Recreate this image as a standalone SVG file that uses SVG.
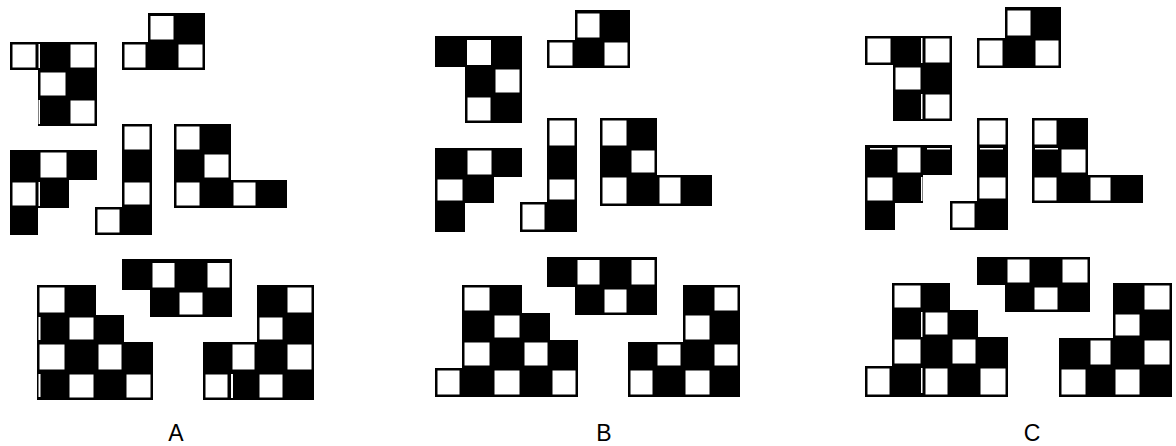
<svg xmlns="http://www.w3.org/2000/svg" width="1176" height="446" viewBox="0 0 1176 446">
<style>
.p{fill:#000}
.w{fill:#fff}
.s{fill:#fff}
.lbl{font-family:"Liberation Sans",Arial,sans-serif;font-size:23px;fill:#000;text-anchor:middle}
</style>
<rect width="1176" height="446" fill="#fff"/>
<!-- Panel A -->
<g id="A1"><path class="p" d="M10,42H97V126H38V70H10Z"/>
<rect class="w" x="12.5" y="44.5" width="23" height="23"/><rect class="w" x="70.5" y="44.5" width="24" height="23"/>
<rect class="w" x="40.5" y="72.5" width="25" height="23"/><rect class="w" x="70.5" y="100.5" width="24" height="23"/>
<rect class="s" x="38.5" y="44" width="1.5" height="24"/><rect class="s" x="38.5" y="100" width="1.5" height="24"/></g>
<g id="A2"><path class="p" d="M148,13H205V70H122V42H148Z"/>
<rect class="w" x="150.5" y="16" width="23" height="23.5"/><rect class="w" x="124.5" y="44.5" width="21" height="23"/><rect class="w" x="178.5" y="44.5" width="24" height="23"/></g>
<g id="A3"><path class="p" d="M10,150H97V180H69V208H38V235H10Z"/>
<rect class="w" x="40.5" y="152.5" width="26" height="25"/><rect class="w" x="12.5" y="182.5" width="23" height="23"/>
<rect class="s" x="38.5" y="182" width="1.5" height="24"/></g>
<g id="A4"><path class="p" d="M122,124H152V235H95V207H122Z"/>
<rect class="w" x="124.5" y="126.5" width="25" height="23"/><rect class="w" x="124.5" y="182.5" width="25" height="22"/><rect class="w" x="97.5" y="209.5" width="22" height="23"/></g>
<g id="A5"><path class="p" d="M174,124H231V180H287V208H174Z"/>
<rect class="w" x="176.5" y="126.5" width="23" height="23"/><rect class="w" x="204.5" y="154.5" width="24" height="23"/>
<rect class="w" x="176.5" y="182.5" width="23" height="23"/><rect class="w" x="233.5" y="182.5" width="22" height="23"/></g>
<g id="A6"><path class="p" d="M37,285H96V315H124V342H153V400H37Z"/>
<rect class="w" x="39.5" y="287.5" width="25" height="25"/><rect class="w" x="69.5" y="317.5" width="24" height="22"/>
<rect class="w" x="39.5" y="344.5" width="25" height="25"/><rect class="w" x="98.5" y="344.5" width="23" height="25"/>
<rect class="w" x="69.5" y="374.5" width="24" height="23"/><rect class="w" x="126.5" y="374.5" width="24" height="23"/>
<rect class="s" x="38.5" y="317" width="2" height="23"/><rect class="s" x="38.5" y="374" width="2" height="23"/></g>
<g id="A7"><path class="p" d="M122,259H232V317H150V290H122Z"/>
<rect class="w" x="152.5" y="263" width="22" height="24.5"/><rect class="w" x="207.5" y="263" width="22" height="24.5"/><rect class="w" x="179.5" y="292.5" width="23" height="22"/></g>
<g id="A8"><path class="p" d="M257,285H314V400H203V342H257Z"/>
<rect class="w" x="287.5" y="287.5" width="24" height="25"/><rect class="w" x="259.5" y="317.5" width="23" height="22"/>
<rect class="w" x="232.5" y="344.5" width="22" height="25"/><rect class="w" x="287.5" y="344.5" width="24" height="25"/>
<rect class="w" x="205.5" y="374.5" width="22" height="23"/><rect class="w" x="259.5" y="374.5" width="23" height="23"/>
<rect class="s" x="231" y="374" width="2" height="24"/></g>
<!-- Panel B -->
<g id="B1"><path class="p" d="M435,36H522V123H465V67H435Z"/>
<rect class="w" x="467" y="40" width="24" height="25"/><rect class="w" x="495.5" y="69.5" width="24" height="23"/><rect class="w" x="467.5" y="97.5" width="23" height="23"/></g>
<g id="B2"><path class="p" d="M575,10H630V68H547V40H575Z"/>
<rect class="w" x="577.5" y="13.5" width="22" height="24"/><rect class="w" x="549.5" y="42.5" width="23" height="23"/><rect class="w" x="604.5" y="42.5" width="23" height="23"/></g>
<g id="B3"><path class="p" d="M435,148H522V177H494V203H465V232H435Z"/>
<rect class="w" x="467.5" y="150.5" width="24" height="24"/><rect class="w" x="437.5" y="179.5" width="25" height="21"/></g>
<g id="B4"><path class="p" d="M547,118H577V232H520V202H547Z"/>
<rect class="w" x="549.5" y="120.5" width="25" height="25"/><rect class="w" x="549.5" y="179.5" width="25" height="20"/><rect class="w" x="522.5" y="204.5" width="22" height="25"/></g>
<g id="B5"><path class="p" d="M600,118H657V175H712V206H600Z"/>
<rect class="w" x="602.5" y="120.5" width="24" height="25"/><rect class="w" x="631.5" y="150.5" width="23" height="22"/>
<rect class="w" x="602.5" y="177.5" width="24" height="26"/><rect class="w" x="659.5" y="177.5" width="21" height="26"/></g>
<g id="B6"><path class="p" d="M462,285H522V313H550V340H578V397H435V368H462Z"/>
<rect class="w" x="464.5" y="287.5" width="25" height="23"/><rect class="w" x="494.5" y="315.5" width="25" height="22"/>
<rect class="w" x="464.5" y="342.5" width="25" height="23"/><rect class="w" x="524.5" y="342.5" width="23" height="23"/>
<rect class="w" x="437.5" y="370.5" width="22" height="24"/><rect class="w" x="494.5" y="370.5" width="25" height="24"/><rect class="w" x="552.5" y="370.5" width="23" height="24"/></g>
<g id="B7"><path class="p" d="M547,257H657V315H575V287H547Z"/>
<rect class="w" x="577.5" y="260" width="22" height="24.5"/><rect class="w" x="631.5" y="260" width="23" height="24.5"/><rect class="w" x="604.5" y="289.5" width="22" height="23"/></g>
<g id="B8"><path class="p" d="M683,285H740V397H628V342H683Z"/>
<rect class="w" x="714.5" y="287.5" width="23" height="23"/><rect class="w" x="685.5" y="315.5" width="24" height="24"/>
<rect class="w" x="657.5" y="344.5" width="23" height="21"/><rect class="w" x="714.5" y="344.5" width="23" height="21"/>
<rect class="w" x="630.5" y="370.5" width="22" height="24"/><rect class="w" x="685.5" y="370.5" width="24" height="24"/></g>
<!-- Panel C -->
<g id="C1"><path class="p" d="M865,36H952V121H893V65H865Z"/>
<rect class="w" x="867.5" y="38.5" width="23" height="24"/><rect class="w" x="925.5" y="38.5" width="24" height="24"/>
<rect class="w" x="895.5" y="67.5" width="25" height="22"/><rect class="w" x="925.5" y="94.5" width="24" height="24"/>
<rect class="s" x="921" y="38" width="1.5" height="25"/><rect class="s" x="921" y="94" width="1.5" height="25"/></g>
<g id="C2"><path class="p" d="M1005,7H1061V68H977V38H1005Z"/>
<rect class="w" x="1007.5" y="10.5" width="23" height="25"/><rect class="w" x="979.5" y="40.5" width="23" height="25"/><rect class="w" x="1035.5" y="40.5" width="23" height="25"/></g>
<g id="C3"><path class="p" d="M865,145H952V175H923V203H895V230H865Z"/>
<rect class="w" x="897.5" y="147.5" width="23" height="25"/><rect class="w" x="867.5" y="177.5" width="25" height="23"/>
<rect class="s" x="870" y="148" width="22" height="1.5"/><rect class="s" x="927" y="148" width="23" height="1.5"/><rect class="s" x="921" y="177" width="1.5" height="24"/></g>
<g id="C4"><path class="p" d="M977,118H1008V230H950V201H977Z"/>
<rect class="w" x="979.5" y="120.5" width="26" height="24"/><rect class="w" x="979.5" y="177.5" width="26" height="21"/><rect class="w" x="952.5" y="203.5" width="22" height="24"/>
<rect class="s" x="980" y="148" width="23" height="1.5"/></g>
<g id="C5"><path class="p" d="M1032,118H1088V175H1143V203H1032Z"/>
<rect class="w" x="1034.5" y="120.5" width="22" height="24"/><rect class="w" x="1061.5" y="149.5" width="24" height="23"/>
<rect class="w" x="1034.5" y="177.5" width="22" height="23"/><rect class="w" x="1090.5" y="177.5" width="20" height="23"/>
<rect class="s" x="1035" y="148" width="23" height="1.5"/></g>
<g id="C6"><path class="p" d="M892,283H950V310H978V337H1008V397H865V366H892Z"/>
<rect class="w" x="894.5" y="285.5" width="26" height="22"/><rect class="w" x="925.5" y="312.5" width="22" height="22"/>
<rect class="w" x="894.5" y="339.5" width="26" height="24"/><rect class="w" x="952.5" y="339.5" width="23" height="24"/>
<rect class="w" x="867.5" y="368.5" width="22" height="26"/><rect class="w" x="925.5" y="368.5" width="22" height="26"/><rect class="w" x="980.5" y="368.5" width="25" height="26"/>
<rect class="s" x="921" y="312" width="1.5" height="25"/><rect class="s" x="921" y="368" width="1.5" height="25"/></g>
<g id="C7"><path class="p" d="M977,257H1090V312H1005V285H977Z"/>
<rect class="w" x="1007.5" y="259.5" width="22" height="23"/><rect class="w" x="1062.5" y="259.5" width="25" height="23"/><rect class="w" x="1034.5" y="287.5" width="23" height="22"/></g>
<g id="C8"><path class="p" d="M1113,283H1172V397H1059V338H1113Z"/>
<rect class="w" x="1144.5" y="285.5" width="25" height="24"/><rect class="w" x="1115.5" y="314.5" width="24" height="21"/>
<rect class="w" x="1090.5" y="340.5" width="20" height="24"/><rect class="w" x="1144.5" y="340.5" width="25" height="24"/>
<rect class="w" x="1061.5" y="369.5" width="24" height="25"/><rect class="w" x="1115.5" y="369.5" width="24" height="25"/></g>
<g id="labels">
<text class="lbl" x="176" y="441">A</text>
<text class="lbl" x="604" y="441">B</text>
<text class="lbl" x="1032" y="441">C</text>
</g>
</svg>
